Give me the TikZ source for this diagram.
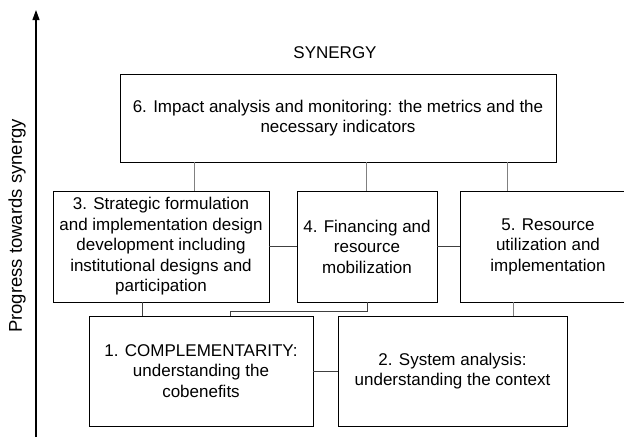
\documentclass[tikz,border=0pt]{standalone}
\usepackage{fontspec}
\setmainfont{Liberation Sans}
\usetikzlibrary{arrows.meta,calc}
\begin{document}
\begin{tikzpicture}[x=1pt,y=-1pt,
  box/.style={draw=black, line width=0.9pt, align=center, inner sep=0pt, font=\fontsize{17}{20.5}\selectfont},
  lbl/.style={font=\fontsize{17}{20}\selectfont, inner sep=0pt},
  dark/.style={draw=black!75, line width=0.7pt},
  light/.style={draw=black!50, line width=0.6pt}]
\useasboundingbox (0,0) rectangle (624,437);
\fill[white] (0,0) rectangle (624,437);
\clip (0,0) rectangle (624,437);
% boxes
\node[box, minimum width=436pt, minimum height=88pt] (b6) at (338,118)
  {6. Impact analysis and monitoring: the metrics and the\\necessary indicators};
\node[box, minimum width=216pt, minimum height=111pt] (b3) at (161,246.5)
  {3. Strategic formulation\\and implementation design\\development including\\institutional designs and\\participation};
\node[box, minimum width=140pt, minimum height=111pt] (b4) at (367,246.5)
  {4. Financing and\\resource\\mobilization};
\node[box, minimum width=176pt, minimum height=111pt] (b5) at (548,246.5)
  {5. Resource\\utilization and\\implementation};
\node[box, minimum width=224pt, minimum height=110pt] (b1) at (201,371)
  {1. COMPLEMENTARITY:\\understanding the\\cobenefits};
\node[box, minimum width=229pt, minimum height=110pt] (b2) at (452.5,371)
  {2. System analysis:\\understanding the context};
% labels
\node[lbl] (syn) at (335,53) {SYNERGY};
\node[lbl, rotate=90, font=\fontsize{18.5}{22}\selectfont] (side) at (17,226) {Progress towards synergy};
% axis arrow
\coordinate (abot) at (36,437);
\coordinate (atop) at (36,10);
\draw[line width=1.1pt, -{Triangle[length=10pt,width=7pt]}] (abot) -- (atop);
% connector x positions
\coordinate (x63) at (194,0);
\coordinate (x64) at (366,0);
\coordinate (x65) at (507,0);
\coordinate (x31) at (142,0);
\coordinate (x52) at (513,0);
\coordinate (x41) at (230,0);
\coordinate (y41) at (0,311);
% connectors
\draw[light] (b6.south -| x63) -- (b3.north -| x63);
\draw[light] (b6.south -| x64) -- (b4.north -| x64);
\draw[light] (b6.south -| x65) -- (b5.north -| x65);
\draw[dark] (b3.east) -- (b4.west);
\draw[dark] (b4.east) -- (b5.west);
\draw[dark] (b3.south -| x31) -- (b1.north -| x31);
\draw[dark] (b4.south) -- (b4.south |- y41) -- (x41 |- y41) -- (b1.north -| x41);
\draw[light] (b5.south -| x52) -- (b2.north -| x52);
\draw[dark] (b1.east) -- (b2.west);
\end{tikzpicture}
\end{document}
